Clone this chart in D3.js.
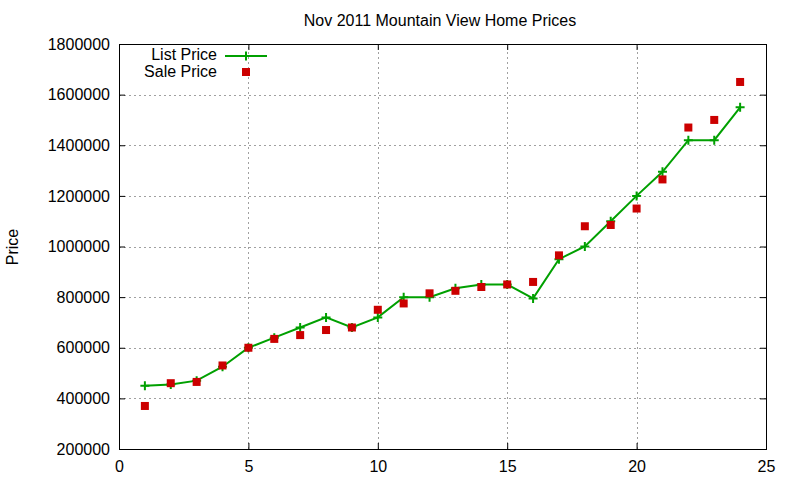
<!DOCTYPE html>
<html>
<head>
<meta charset="utf-8">
<script src="https://cdnjs.cloudflare.com/ajax/libs/d3/7.8.5/d3.min.js"></script>
<style>
  body { margin: 0; background: #fff; }
  svg text { font-family: "Liberation Sans", Arial, sans-serif; fill: #000; }
</style>
</head>
<body>
<div class="svg-container"></div>
<script>
// data
const houses = [1,2,3,4,5,6,7,8,9,10,11,12,13,14,15,16,17,18,19,20,21,22,23,24];
const listPrice = [450000,455000,470000,525000,600000,640000,680000,720000,680000,720000,800000,800000,
                   835000,850000,850000,795000,950000,1000000,1100000,1200000,1295000,1420000,1420000,1550000];
const salePrice = [370000,460000,465000,530000,600000,635000,650000,670000,680000,750000,775000,815000,
                   825000,840000,850000,860000,965000,1080000,1085000,1150000,1265000,1470000,1500000,1650000];
const xTicks = [0,5,10,15,20,25];
const yTicks = [200000,400000,600000,800000,1000000,1200000,1400000,1600000,1800000];

var w = 800, h = 480;
const margin = {left: 119, right: 34, top: 44, bottom: 31};

const svg = d3.select(".svg-container")
              .append("svg")
              .attr("width", w)
              .attr("height", h);

const xScale = d3.scaleLinear()
                 .domain([0, 25])
                 .range([margin.left, w - margin.right]);
const yScale = d3.scaleLinear()
                 .domain([200000, 1800000])
                 .range([h - margin.bottom, margin.top]);

// grid
const grid = svg.append("g")
   .attr("stroke", "#a0a0a0")
   .attr("stroke-width", 1)
   .attr("stroke-dasharray", "2,3");
grid.selectAll(".gx")
   .data(xTicks.slice(1, -1))
   .enter().append("line")
   .attr("x1", d => Math.round(xScale(d)) + 0.5).attr("x2", d => Math.round(xScale(d)) + 0.5)
   .attr("y1", yScale.range()[0]).attr("y2", yScale.range()[1]);
grid.selectAll(".gy")
   .data(yTicks.slice(1, -1))
   .enter().append("line")
   .attr("y1", d => Math.round(yScale(d)) + 0.5).attr("y2", d => Math.round(yScale(d)) + 0.5)
   .attr("x1", xScale.range()[0]).attr("x2", xScale.range()[1]);

// axes, ticks point inward and are mirrored on the opposite side
function styleAxis(g) {
  g.select(".domain").remove();
  g.selectAll("line").attr("stroke", "#000");
  g.selectAll("text").style("font-size", "16px").style("font-family", "Liberation Sans, Arial, sans-serif");
}
svg.append("g")
   .attr("transform", "translate(0," + (h - margin.bottom) + ")")
   .call(d3.axisBottom(xScale).tickValues(xTicks).tickSize(-6).tickPadding(8).tickFormat(d3.format("d")))
   .call(styleAxis)
   .selectAll("text").attr("dy", "0.95em");
svg.append("g")
   .attr("transform", "translate(0," + margin.top + ")")
   .call(d3.axisTop(xScale).tickValues(xTicks).tickSize(-6).tickFormat(""))
   .call(styleAxis);
svg.append("g")
   .attr("transform", "translate(" + margin.left + ",0)")
   .call(d3.axisLeft(yScale).tickValues(yTicks).tickSize(-6).tickPadding(9).tickFormat(d3.format("d")))
   .call(styleAxis);
svg.append("g")
   .attr("transform", "translate(" + (w - margin.right) + ",0)")
   .call(d3.axisRight(yScale).tickValues(yTicks).tickSize(-6).tickFormat(""))
   .call(styleAxis);

// border
svg.append("rect")
   .attr("x", margin.left + 0.5).attr("y", margin.top + 0.5)
   .attr("width", w - margin.left - margin.right).attr("height", h - margin.top - margin.bottom)
   .attr("fill", "none").attr("stroke", "#000").attr("stroke-width", 1);

// titles
svg.append("text")
   .attr("x", 440).attr("y", 26)
   .attr("text-anchor", "middle")
   .style("font-size", "16px")
   .text("Nov 2011 Mountain View Home Prices");
svg.append("text")
   .attr("transform", "translate(18," + 247 + ") rotate(-90)")
   .attr("text-anchor", "middle")
   .style("font-size", "16px")
   .text("Price");

const green = "#00a000", red = "#cc0000";

// list price line
const line = d3.line().x((d, i) => xScale(houses[i])).y(d => yScale(d));
svg.append("path")
   .datum(listPrice)
   .attr("d", line)
   .attr("fill", "none")
   .attr("stroke", green)
   .attr("stroke-width", 2);

function plus(sel, s) {
  sel.append("path")
     .attr("d", "M" + (-s) + ",0H" + s + "M0," + (-s) + "V" + s)
     .attr("stroke", green).attr("stroke-width", 2).attr("fill", "none");
}
svg.selectAll(".lp")
   .data(listPrice)
   .enter().append("g")
   .attr("transform", (d, i) => "translate(" + xScale(houses[i]) + "," + yScale(d) + ")")
   .call(plus, 4.5);

// sale price points
svg.selectAll(".sp")
   .data(salePrice)
   .enter().append("rect")
   .attr("x", (d, i) => xScale(houses[i]) - 4)
   .attr("y", d => yScale(d) - 4)
   .attr("width", 8).attr("height", 8)
   .attr("fill", red);

// legend
const legend = svg.append("g");
legend.append("text").attr("x", 217).attr("y", 60).attr("text-anchor", "end")
   .style("font-size", "16px").text("List Price");
legend.append("line").attr("x1", 225).attr("x2", 267).attr("y1", 56).attr("y2", 56)
   .attr("stroke", green).attr("stroke-width", 2);
legend.append("g").attr("transform", "translate(246,56)").call(plus, 4.5);
legend.append("text").attr("x", 217).attr("y", 77).attr("text-anchor", "end")
   .style("font-size", "16px").text("Sale Price");
legend.append("rect").attr("x", 242).attr("y", 68).attr("width", 8).attr("height", 8).attr("fill", red);
</script>
</body>
</html>
